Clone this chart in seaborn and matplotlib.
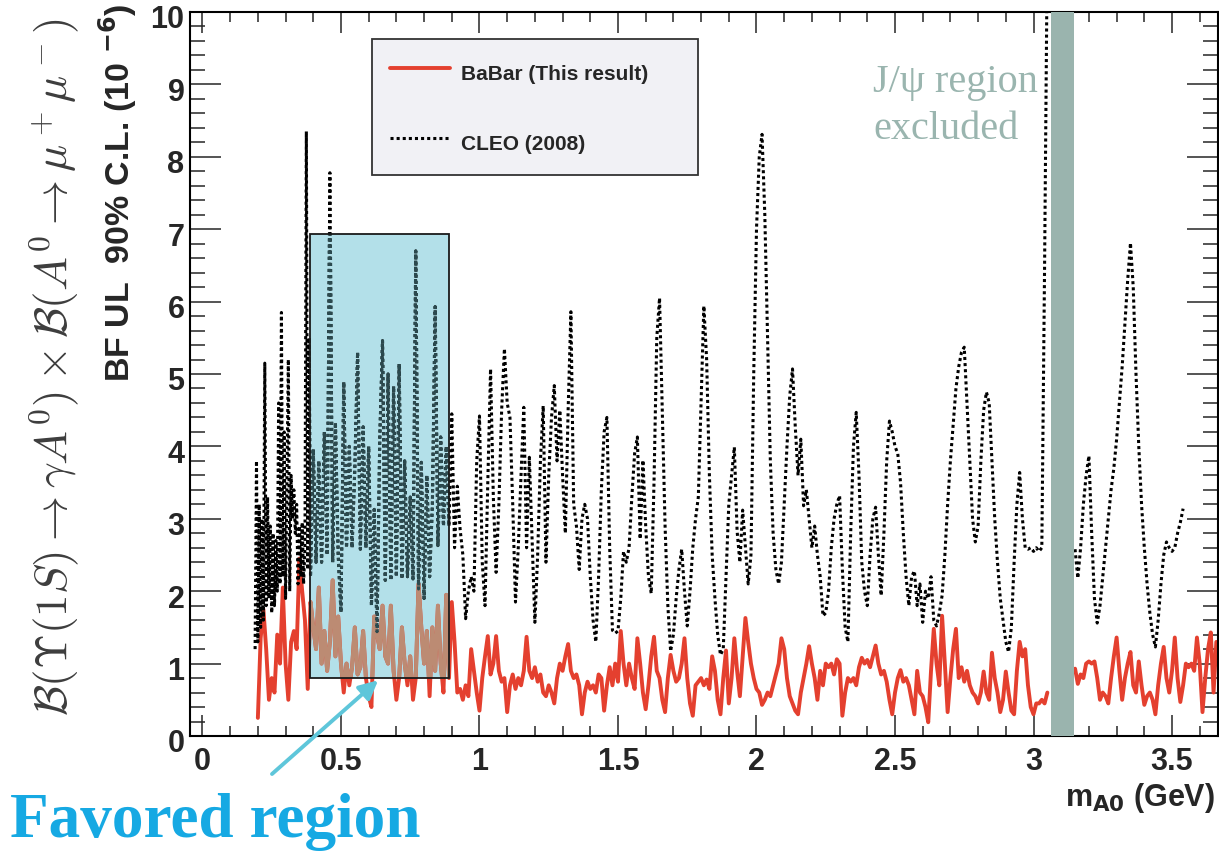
import numpy as np
import matplotlib
matplotlib.use("Agg")
import matplotlib.pyplot as plt
import seaborn as sns
from matplotlib.patches import Rectangle
from matplotlib.ticker import MultipleLocator, FuncFormatter
from matplotlib.transforms import ScaledTranslation

# ---------------- data ----------------
# BaBar 90% CL upper limit, m_A0 = 0.20 ... 3.05 GeV in 0.01 GeV steps
babar_lo_start = 0.20
babar_lo = [
    0.25, 1.35, 1.75, 1.2, 0.5, 0.8, 0.6, 1.4, 1.0, 2.05,
    1.0, 0.5, 1.3, 1.45, 1.2, 2.45, 2.0, 1.6, 0.65, 1.85,
    1.5, 1.2, 2.05, 1.0, 1.45, 0.9, 1.3, 2.15, 1.1, 1.65,
    1.0, 0.6, 1.0, 0.7, 0.95, 1.5, 0.85, 0.95, 1.45, 0.8,
    0.55, 0.4, 1.65, 1.4, 1.2, 1.8, 1.1, 1.0, 1.8, 0.9,
    0.5, 0.8, 1.5, 1.0, 0.7, 1.1, 0.5, 0.8, 2.1, 1.5,
    1.0, 1.45, 0.55, 1.5, 0.9, 1.8, 1.0, 0.6, 1.95, 0.8,
    1.85, 1.3, 0.6, 0.65, 0.5, 0.7, 0.55, 1.2, 0.9, 0.6,
    0.35, 0.8, 1.1, 1.38, 0.85, 1.0, 1.38, 0.9, 0.75, 0.8,
    0.33, 0.7, 0.85, 0.65, 0.8, 0.7, 0.9, 1.37, 0.9, 0.8,
    0.95, 0.75, 0.85, 0.6, 0.55, 0.7, 0.6, 0.45, 0.8, 1.0,
    0.9, 1.1, 1.27, 0.9, 0.8, 0.85, 0.7, 0.3, 0.6, 0.75,
    0.65, 0.7, 0.6, 0.85, 0.8, 0.35, 0.7, 0.95, 0.7, 1.0,
    0.75, 1.45, 1.0, 0.7, 1.0, 0.8, 0.65, 1.35, 1.0, 0.6,
    0.37, 0.7, 1.1, 1.37, 0.9, 0.8, 0.5, 0.33, 0.8, 1.12,
    0.9, 0.75, 0.8, 1.0, 1.35, 0.8, 0.45, 0.28, 0.7, 0.75,
    0.8, 0.7, 0.78, 0.65, 1.1, 0.9, 0.5, 0.3, 0.8, 1.18,
    0.45, 0.8, 1.35, 0.9, 0.55, 1.1, 1.63, 1.3, 1.0, 0.8,
    0.65, 0.6, 0.43, 0.5, 0.6, 0.55, 0.7, 0.85, 1.0, 1.35,
    1.2, 0.8, 0.55, 0.45, 0.35, 0.3, 0.6, 0.8, 1.0, 1.24,
    1.0, 0.8, 0.5, 0.9, 0.7, 1.0, 0.95, 1.0, 0.85, 1.06,
    1.0, 0.28, 0.6, 0.8, 0.75, 0.8, 0.7, 0.95, 1.08, 1.0,
    1.05, 0.95, 1.1, 1.25, 1.0, 0.85, 0.9, 0.75, 0.5, 0.3,
    0.6, 0.8, 0.91, 0.75, 0.8, 0.7, 0.5, 0.3, 0.9, 0.6,
    0.55, 0.4, 0.19, 0.9, 1.48, 1.0, 0.7, 1.66, 1.0, 0.33,
    0.8, 1.2, 1.48, 0.8, 0.95, 0.75, 0.9, 0.7, 0.6, 0.55,
    0.45, 0.6, 0.89, 0.6, 0.5, 1.15, 0.8, 0.6, 0.33, 0.5,
    0.89, 0.6, 0.35, 0.3, 0.9, 1.3, 1.1, 1.2, 0.7, 0.4,
    0.3, 0.45, 0.45, 0.5, 0.45, 0.6,
]
# BaBar above the J/psi region, 3.15 ... 3.66 GeV in 0.01 GeV steps
babar_hi_start = 3.15
babar_hi = [
    0.93, 0.72, 0.85, 0.8, 1.0, 1.03, 1.0, 1.03, 0.8, 0.5,
    0.6, 0.55, 0.45, 0.8, 1.1, 1.36, 0.9, 0.5, 0.8, 1.0,
    1.16, 0.7, 0.6, 1.03, 0.7, 0.43, 0.55, 0.6, 0.5, 0.3,
    0.7, 1.0, 1.23, 0.8, 0.6, 0.9, 1.36, 0.8, 0.47, 0.7,
    1.0, 0.95, 1.0, 0.9, 1.36, 1.0, 0.33, 0.8, 1.2, 1.43,
    0.6, 1.3,
]
# CLEO (2008), fine part 0.190 ... 0.385 GeV in 0.005 GeV steps
cleo_fine_start = 0.19
cleo_fine = [
    1.2, 3.8, 1.3, 3.2, 1.5, 3.0, 1.6, 5.15, 1.8, 3.3, 1.9, 2.9, 1.7,
    2.8, 1.8, 2.7, 2.0, 4.6, 2.1, 5.85, 2.2, 4.2, 1.9, 3.5, 5.2, 2.0,
    3.6, 3.0, 3.4, 2.8, 3.2, 2.1, 2.9, 2.2, 2.95, 2.1, 2.6, 8.35, 2.3, 5.5,
]
# CLEO, 0.39 ... 3.05 GeV in 0.01 GeV steps
cleo_mid_start = 0.39
cleo_mid = [
    2.2,
    3.96, 2.4, 3.8, 2.4, 4.2, 2.5, 7.78, 2.4, 4.33, 2.5,
    1.71, 4.89, 2.6, 4.0, 2.6, 3.7, 5.3, 2.58, 4.27, 2.6,
    4.0, 1.8, 3.13, 1.44, 4.1, 5.46, 2.15, 5.0, 2.15, 4.83,
    2.2, 5.14, 2.17, 3.8, 2.2, 3.3, 2.17, 6.7, 2.03, 3.78,
    1.9, 3.6, 2.2, 3.2, 5.93, 2.63, 4.13, 2.9, 4.0, 2.9,
    4.45, 2.6, 3.45, 2.86, 2.5, 1.62, 2.0, 2.2, 2.0, 3.8,
    4.42, 2.4, 1.8, 3.5, 5.07, 3.3, 2.26, 3.2, 4.5, 5.35,
    4.6, 4.4, 3.2, 1.85, 2.6, 3.6, 4.54, 2.6, 3.85, 2.7,
    1.57, 2.5, 3.8, 4.56, 2.4, 3.6, 4.4, 4.84, 3.8, 4.5,
    3.6, 2.8, 4.5, 5.86, 3.2, 2.9, 2.3, 3.0, 3.2, 3.0,
    2.2, 1.6, 1.3, 2.2, 3.4, 4.2, 4.4, 2.6, 1.46, 1.42,
    1.45, 1.9, 2.55, 2.4, 2.6, 3.3, 3.9, 4.13, 2.72, 3.81,
    2.9, 2.2, 1.97, 3.5, 5.5, 6.05, 4.5, 2.9, 1.8, 1.17,
    1.4, 1.9, 2.3, 2.58, 2.0, 1.52, 2.0, 2.6, 3.0, 3.3,
    4.6, 5.94, 5.2, 3.6, 2.5, 1.9, 1.4, 1.12, 1.2, 2.2,
    3.2, 3.6, 3.99, 2.83, 2.4, 3.12, 2.6, 2.1, 2.5, 5.0,
    7.0, 8.0, 8.31, 7.2, 5.5, 3.8, 2.8, 2.3, 2.1, 2.4,
    3.2, 4.0, 4.7, 5.07, 4.27, 3.6, 4.1, 3.18, 3.4, 3.0,
    2.6, 2.9, 2.5, 2.2, 1.66, 1.7, 2.0, 2.6, 3.0, 3.2,
    3.32, 2.3, 1.5, 1.3, 2.8, 4.0, 4.47, 3.6, 2.4, 2.0,
    1.8, 2.5, 3.0, 3.16, 2.5, 1.94, 2.8, 3.8, 4.35, 4.2,
    4.0, 3.9, 3.5, 2.8, 2.2, 1.8, 2.2, 2.28, 1.8, 2.1,
    1.57, 2.0, 1.9, 2.2, 1.6, 1.52, 1.7, 1.94, 2.5, 3.2,
    3.8, 4.3, 4.8, 5.1, 5.3, 5.37, 4.6, 3.8, 3.0, 2.68,
    2.9, 3.8, 4.5, 4.75, 4.6, 3.8, 3.0, 2.4, 1.9, 1.6,
    1.3, 1.16, 1.5, 2.4, 3.2, 3.64, 3.0, 2.6, 2.58, 2.6,
    2.55, 2.6, 2.55, 2.6, 6.5, 11.0,
]
# CLEO above the J/psi region, 3.15 ... 3.54 GeV in 0.01 GeV steps
cleo_hi_start = 3.15
cleo_hi = [
    2.58, 2.18, 2.6, 3.2, 3.6,
    3.87, 2.8, 1.9, 1.56, 1.8, 2.2, 2.6, 3.0, 3.4, 3.7,
    4.1, 4.6, 5.1, 5.7, 6.3, 6.81, 6.2, 5.0, 4.0, 3.2,
    2.6, 2.1, 1.7, 1.4, 1.23, 1.6, 2.1, 2.5, 2.68, 2.6,
    2.55, 2.6, 2.8, 2.95, 3.14,
]
series_labels = ["BaBar (This result)", "CLEO (2008)"]
favored_region = (0.388, 0.89, 0.8, 6.93)     # x0, x1, y0, y1
jpsi_region = (3.063, 3.146)
x_ticks = [0, 0.5, 1, 1.5, 2, 2.5, 3, 3.5]
y_ticks = list(range(0, 11))


def grid(start, step, vals):
    return np.round(start + step * np.arange(len(vals)), 4)


babar_lo_x = grid(babar_lo_start, 0.01, babar_lo)
babar_hi_x = grid(babar_hi_start, 0.01, babar_hi)
cleo_lo_x = np.concatenate([grid(cleo_fine_start, 0.005, cleo_fine),
                            grid(cleo_mid_start, 0.01, cleo_mid)])
cleo_lo_y = np.array(cleo_fine + cleo_mid)
cleo_hi_x = grid(cleo_hi_start, 0.01, cleo_hi)

# ---------------- style ----------------
sns.set_style("ticks")
plt.rcParams['font.family'] = ['Liberation Sans', 'DejaVu Sans']
plt.rcParams['font.weight'] = 'bold'
plt.rcParams['axes.linewidth'] = 1.5

W, H = 1219, 854
fig = plt.figure(figsize=(W / 100, H / 100), dpi=100)
ax = fig.add_axes([190 / W, 1 - 737 / H, 1028 / W, 724 / H])
ax.set_xlim(-0.045, 3.666)
ax.set_ylim(0, 10)

RED = '#E4402F'
DOT = (0, (1.0, 1.0))

# favored-region box fill
fx0, fx1, fy0, fy1 = favored_region
box = Rectangle((fx0, fy0), fx1 - fx0, fy1 - fy0, facecolor='#B3E0E9',
                edgecolor='none', zorder=1)
ax.add_patch(box)

# main curves
sns.lineplot(x=babar_lo_x, y=babar_lo, ax=ax, color=RED, linewidth=2.8,
             sort=False, estimator=None, zorder=2)
red_line = ax.lines[-1]
sns.lineplot(x=babar_hi_x, y=babar_hi, ax=ax, color=RED, linewidth=2.8,
             sort=False, estimator=None, zorder=2)
sns.lineplot(x=cleo_lo_x, y=cleo_lo_y, ax=ax, color='black', linewidth=2.2,
             linestyle=DOT, sort=False, estimator=None, zorder=2.1)
cleo_line = ax.lines[-1]
sns.lineplot(x=cleo_hi_x, y=cleo_hi, ax=ax, color='black', linewidth=2.2,
             linestyle=DOT, sort=False, estimator=None, zorder=2.1)

# tinted copies inside the favored-region box
sns.lineplot(x=babar_lo_x, y=babar_lo, ax=ax, color='#BC8B73', linewidth=2.8,
             sort=False, estimator=None, zorder=2.2)
ax.lines[-1].set_clip_path(box)
sns.lineplot(x=cleo_lo_x, y=cleo_lo_y, ax=ax, color='#2B4A4F', linewidth=2.2,
             linestyle=DOT, sort=False, estimator=None, zorder=2.3)
ax.lines[-1].set_clip_path(box)

# box outline
ax.add_patch(Rectangle((fx0, fy0), fx1 - fx0, fy1 - fy0, fill=False,
                       edgecolor='#1a1a1a', linewidth=1.3, zorder=3))

# J/psi excluded band
ax.axvspan(*jpsi_region, color='#9AB4AE', lw=0, zorder=4)

# ticks
ax.xaxis.set_minor_locator(MultipleLocator(0.1))
ax.yaxis.set_minor_locator(MultipleLocator(0.2))
ax.set_xticks(x_ticks)
ax.set_yticks(y_ticks)
ax.xaxis.set_major_formatter(FuncFormatter(lambda v, p: f"{v:g}"))
ax.yaxis.set_major_formatter(FuncFormatter(lambda v, p: f"{v:g}"))
ax.tick_params(axis='x', which='major', direction='in', length=15, width=1.1,
               top=True, bottom=True, labelsize=22, pad=7)
ax.tick_params(axis='x', which='minor', direction='in', length=7.5, width=1.1,
               top=True, bottom=True)
ax.tick_params(axis='y', which='major', direction='in', length=22, width=1.1,
               left=True, right=True, labelsize=22, pad=4)
ax.tick_params(axis='y', which='minor', direction='in', length=11, width=1.1,
               left=True, right=True)
for lab in ax.get_xticklabels() + ax.get_yticklabels():
    lab.set_fontweight('bold')
shift = ScaledTranslation(0, -4 / 100, fig.dpi_scale_trans)
for t in ax.yaxis.get_major_ticks():
    t.label1.set_transform(t.label1.get_transform() + shift)
for s in ax.spines.values():
    s.set_linewidth(1.5)
    s.set_color('black')

# legend
x0 = (372 - 190) / 1028
x1 = (698 - 190) / 1028
yt = (737 - 40) / 724
leg = ax.legend(handles=[red_line, cleo_line], labels=series_labels,
                loc='upper left', bbox_to_anchor=(x0, yt - 0.2, x1 - x0, 0.2),
                mode='expand', borderaxespad=0, frameon=True, fancybox=False,
                facecolor='#F1F1F5', edgecolor='#333333', framealpha=1,
                prop={'weight': 'bold', 'size': 15}, handlelength=2.84,
                handletextpad=0.53, handleheight=1.8, labelspacing=1.94,
                borderpad=0.88)
leg.get_frame().set_linewidth(1.3)
leg.set_zorder(6)

# axis titles
fig.text(118 / W, 1 - 4 / H, r"BF UL  90% C.L. (10 $^{\mathbf{-6}}$)",
         rotation=90, ha='center', va='top', fontsize=24.5, fontweight='bold',
         math_fontfamily='dejavusans')
fig.text(1215 / W, 1 - 806 / H, r"m$_{\mathbf{A0}}$ (GeV)", ha='right',
         va='baseline', fontsize=22, fontweight='bold',
         math_fontfamily='dejavusans')
fig.text(0.045, 1 - 367 / H,
         r"$\mathcal{B}(\Upsilon(1S)\rightarrow\gamma A^0)\times\mathcal{B}(A^0\rightarrow\mu^+\mu^-)$",
         rotation=90, ha='center', va='center', fontsize=32.5, color='#3d3d3d',
         math_fontfamily='cm')

# annotations
fig.text(873 / W, 1 - 64 / H, "J/ψ region\nexcluded", ha='left', va='top',
         fontsize=29, color='#9AB5AF', family=['Liberation Serif', 'DejaVu Serif'],
         fontweight='normal', linespacing=1.35)
fig.text(10 / W, 1 - 837 / H, "Favored region", ha='left', va='baseline',
         fontsize=45.5, fontweight='bold', color='#16A9E3',
         family=['Liberation Serif', 'DejaVu Serif'])
ax.annotate('', xy=(0.634, 0.77), xycoords='data',
            xytext=(272 / W, 1 - 775 / H), textcoords='figure fraction',
            arrowprops=dict(arrowstyle='-|>', color='#5EC6DA', lw=2.8,
                            mutation_scale=28, shrinkA=0, shrinkB=0),
            annotation_clip=False, zorder=7)

fig.savefig("out.png", dpi=100)
